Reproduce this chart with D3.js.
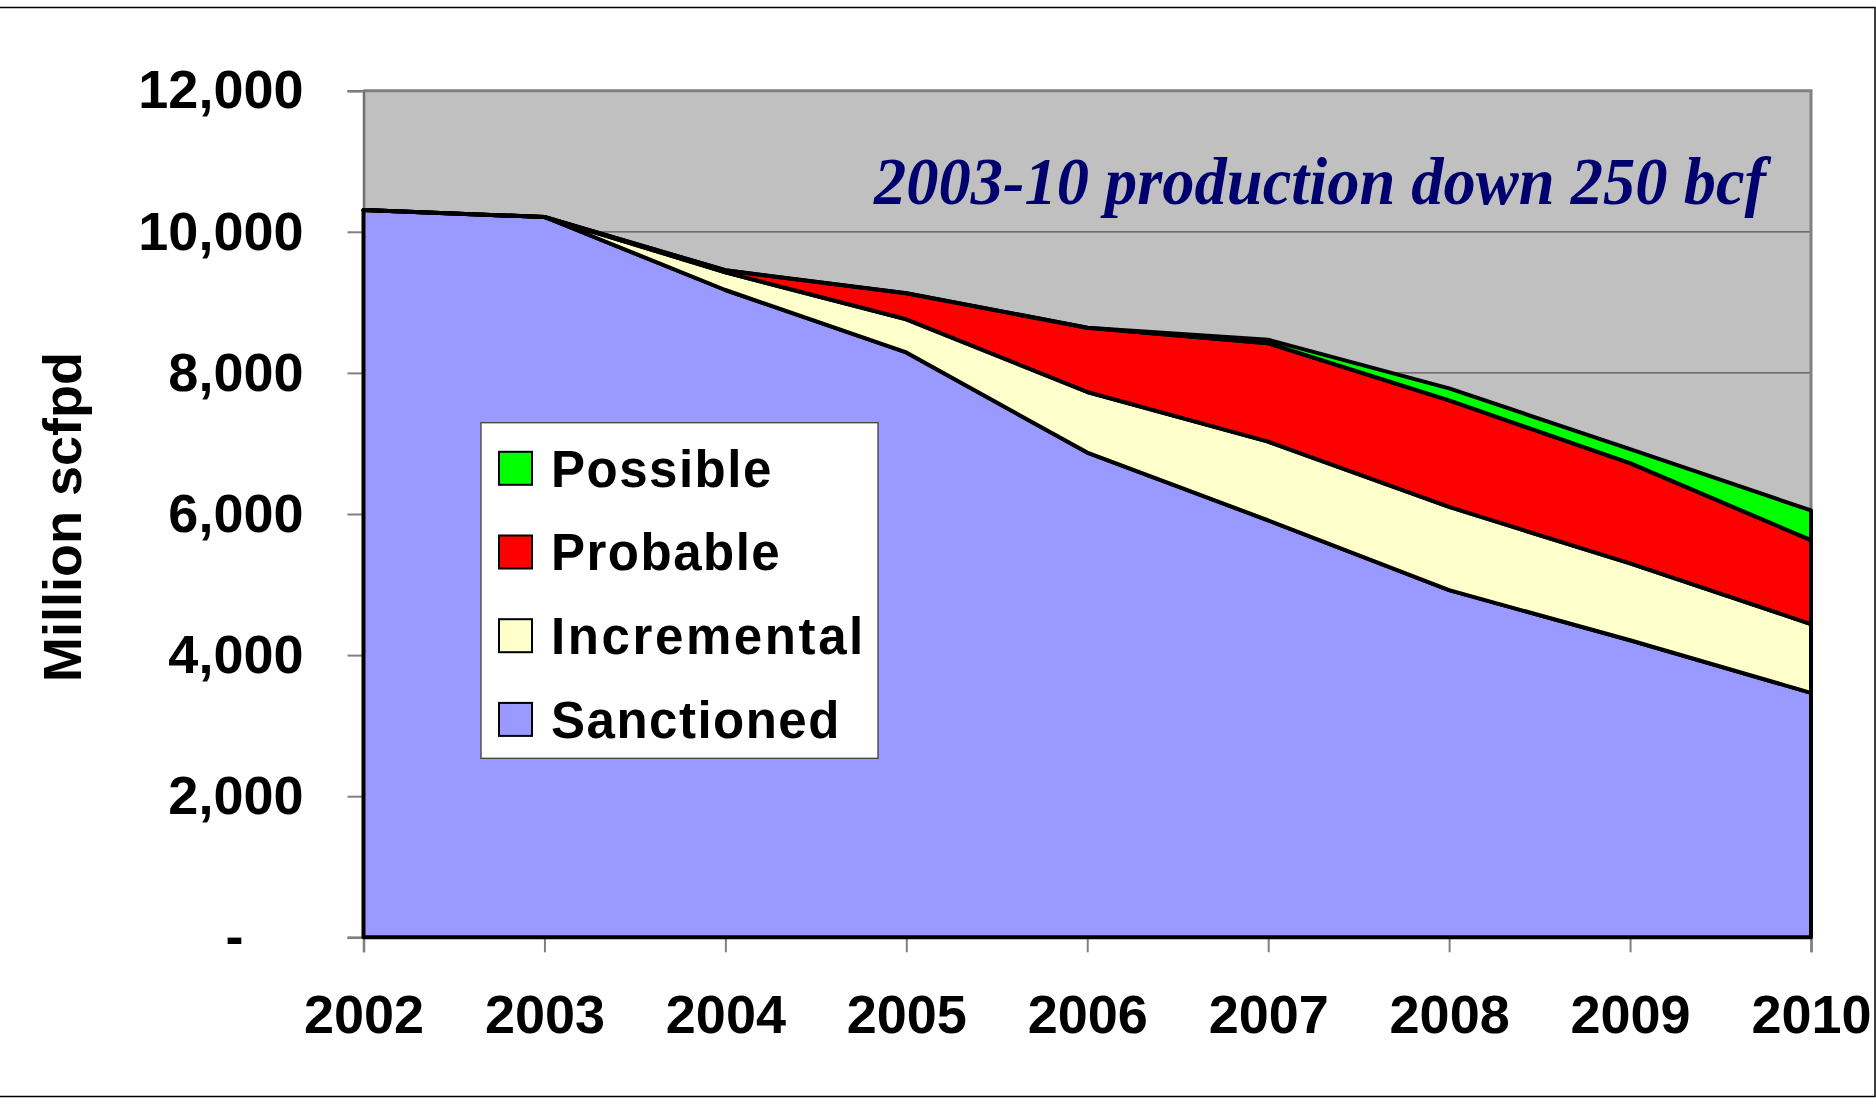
<!DOCTYPE html>
<html>
<head>
<meta charset="utf-8">
<script src="https://cdn.jsdelivr.net/npm/d3@7"></script>
<style>
  body { margin: 0; background: #ffffff; }
  text { font-family: "Liberation Sans", Arial, sans-serif; font-weight: bold; }
</style>
</head>
<body>
<svg id="chart" width="1876" height="1100"></svg>
<script>
// ---- Data ----
const years = [2002, 2003, 2004, 2005, 2006, 2007, 2008, 2009, 2010];
const sanctioned  = [10310, 10210, 9175, 8290, 6870, 5910, 4920, 4210, 3465];
const incremental = [0, 0, 250, 470, 860, 1115, 1180, 1090, 975];
const probable    = [0, 0, 30, 370, 910, 1395, 1510, 1420, 1190];
const possible    = [0, 0, 0, 0, 0, 50, 170, 200, 420];
const seriesNames = ["Sanctioned", "Incremental", "Probable", "Possible"];
const seriesColors = ["#9999FF", "#FFFFCC", "#FF0000", "#00FF00"];
const legendOrder = ["Possible", "Probable", "Incremental", "Sanctioned"];
const yTicks = [0, 2000, 4000, 6000, 8000, 10000, 12000];
const yTitle = "Million scfpd";
const annotation = "2003-10 production down 250 bcf";

// ---- Layout ----
const W = 1876, H = 1100;
const plot = { left: 363.5, right: 1811, top: 90.7, bottom: 937.3 };
const svg = d3.select("#chart");

const table = years.map((yr, i) => ({
  year: yr,
  Sanctioned: sanctioned[i],
  Incremental: incremental[i],
  Probable: probable[i],
  Possible: possible[i]
}));
const color = d3.scaleOrdinal().domain(seriesNames).range(seriesColors);

const x = d3.scalePoint().domain(years).range([plot.left, plot.right]);
const y = d3.scaleLinear().domain([0, 12000]).range([plot.bottom, plot.top]);

// outer frame
svg.append("rect")
  .attr("x", -2).attr("y", 7.5).attr("width", W + 1).attr("height", 1089)
  .attr("fill", "none").attr("stroke", "#000").attr("stroke-width", 1.5);

// plot background
svg.append("rect")
  .attr("x", plot.left).attr("y", plot.top)
  .attr("width", plot.right - plot.left).attr("height", plot.bottom - plot.top)
  .attr("fill", "#C0C0C0");

// gridlines
svg.append("g").selectAll("line")
  .data(yTicks.filter(d => d > 0 && d < 12000))
  .join("line")
  .attr("x1", plot.left).attr("x2", plot.right)
  .attr("y1", d => y(d)).attr("y2", d => y(d))
  .attr("stroke", "#555").attr("stroke-width", 1.2);

// plot border (top & right)
svg.append("path")
  .attr("d", `M${plot.left},${plot.top}H${plot.right}V${plot.bottom}`)
  .attr("fill", "none").attr("stroke", "#808080").attr("stroke-width", 3);

// y axis
const yAxis = d3.axisLeft(y)
  .tickValues(yTicks)
  .tickSize(16)
  .tickPadding(44)
  .tickFormat(d => d === 0 ? "-    " : d3.format(",")(d));
const gy = svg.append("g")
  .attr("transform", `translate(${plot.left},0)`)
  .call(yAxis);
gy.select(".domain").attr("stroke", "#707070").attr("stroke-width", 2.5);
gy.selectAll(".tick line").attr("stroke", "#808080").attr("stroke-width", 2);
gy.selectAll(".tick text")
  .attr("font-size", 54).attr("fill", "#000")
  .style("white-space", "pre")
  .style("font-family", "'Liberation Sans', Arial, sans-serif")
  .style("font-weight", "bold");

// x axis
const xAxis = d3.axisBottom(x).tickSize(15).tickPadding(42);
const gx = svg.append("g")
  .attr("transform", `translate(0,${plot.bottom})`)
  .call(xAxis);
gx.select(".domain").attr("stroke", "#707070").attr("stroke-width", 2.5);
gx.selectAll(".tick line").attr("stroke", "#808080").attr("stroke-width", 2);
gx.selectAll(".tick text")
  .attr("font-size", 54).attr("fill", "#000")
  .style("font-family", "'Liberation Sans', Arial, sans-serif")
  .style("font-weight", "bold");

// stacked areas
const stack = d3.stack().keys(seriesNames);
const layers = stack(table);
const area = d3.area()
  .x(d => x(d.data.year))
  .y0(d => y(d[0]))
  .y1(d => y(d[1]));

svg.append("g").selectAll("path")
  .data(layers)
  .join("path")
  .attr("d", d => area(d))
  .attr("fill", d => color(d.key))
  .attr("stroke", "#000")
  .attr("stroke-width", 4)
  .attr("stroke-linejoin", "round");

// y axis title
svg.append("text")
  .attr("transform", `translate(81,517) rotate(-90)`)
  .attr("text-anchor", "middle")
  .attr("font-size", 54)
  .attr("fill", "#000")
  .text(yTitle);

// annotation
svg.append("text")
  .attr("x", 874).attr("y", 204)
  .attr("textLength", 892)
  .attr("lengthAdjust", "spacingAndGlyphs")
  .style("font-family", "'Liberation Serif', 'Times New Roman', serif")
  .style("font-style", "italic")
  .style("font-weight", "bold")
  .attr("font-size", 67)
  .attr("fill", "#00006E")
  .text(annotation);

// legend
const legend = svg.append("g").attr("transform", "translate(481,422.7)");
legend.append("rect")
  .attr("width", 397).attr("height", 335.6)
  .attr("fill", "#fff").attr("stroke", "#404040").attr("stroke-width", 1.3);
const item = legend.selectAll("g.item")
  .data(legendOrder)
  .join("g").attr("class", "item")
  .attr("transform", (d, i) => `translate(0,${45.6 + i * 83.7})`);
item.append("rect")
  .attr("x", 18).attr("y", -16.5).attr("width", 33).attr("height", 33)
  .attr("fill", d => color(d)).attr("stroke", "#000").attr("stroke-width", 2);
item.append("text")
  .attr("x", 70).attr("dy", "0.36em")
  .attr("font-size", 51)
  .attr("letter-spacing", d => d === "Incremental" ? 2.6 : 1.5)
  .attr("fill", "#000")
  .text(d => d);
</script>
</body>
</html>
